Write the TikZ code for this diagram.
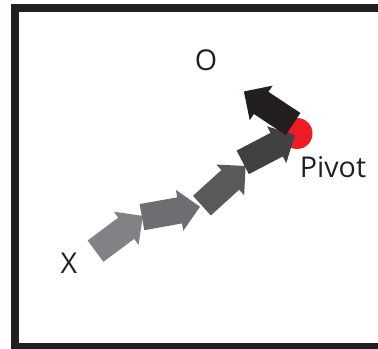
\documentclass[tikz,border=0pt]{standalone}
\usepackage{fontspec}
\setmainfont{Open Sans}
\usetikzlibrary{shapes.arrows}

\definecolor{ink}{HTML}{231F20}
\definecolor{k60}{HTML}{808285}
\definecolor{k70}{HTML}{6D6E71}
\definecolor{k80}{HTML}{58595B}
\definecolor{k90}{HTML}{414042}
\definecolor{pivotred}{HTML}{ED1C24}

\begin{document}
\begin{tikzpicture}[x=0.75pt, y=-0.75pt,
    fatarrow/.style={single arrow, draw=none, fill=#1, inner xsep=0pt, inner ysep=9.75pt,
      anchor=tail, minimum height=44.25pt, single arrow head extend=5.6pt},
    lbl/.style={font=\fontsize{21.5}{24}\selectfont, text=ink, inner sep=0pt}]
    \useasboundingbox (0,0) rectangle (378,349);
    \clip (0,0) rectangle (378,349);

    % frame, right side runs off the page
    \draw [line width=6pt, draw=ink] (14.5,8.3) rectangle (420,347.3);

    \node [circle, fill=pivotred, inner sep=0pt, minimum size=23.25pt] (pivot) at (297,133.5) {};

    \begin{scope}
      \node [fatarrow=k60, rotate=36.7] (a1) at (95.3,251.3) {};
      \node [fatarrow=k70, rotate=10.2] (a2) at (141.7,217.2) {};
      \node [fatarrow=k80, rotate=42.2] (a3) at (201.7,205.8) {};
      \node [fatarrow=k90, rotate=27.6] (a4) at (242.5,162.5) {};
      \node [fatarrow=ink, rotate=146.5] (a5) at (293.3,124.2) {};
    \end{scope}

    \node [lbl] (o) at (206,60.7) {O};
    \node [lbl] (x) at (69,263.3) {X};
    \node [lbl, anchor=base] (pivotlbl) at (333,177.3) {Pivot};
\end{tikzpicture}
\end{document}
